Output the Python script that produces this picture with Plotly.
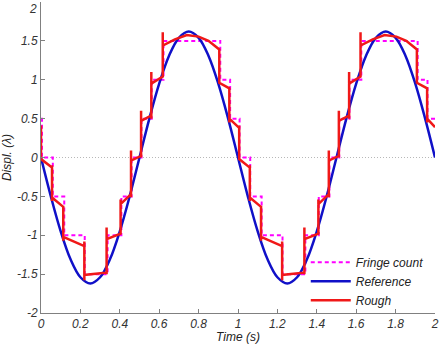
import plotly.graph_objects as go

# ---- data ----
ref_t = [round(0.05 * i, 2) for i in range(41)]
ref_v = [0.00, -0.50, -0.95, -1.31, -1.54, -1.62, -1.54, -1.31, -0.95, -0.50,
         0.00, 0.50, 0.95, 1.31, 1.54, 1.62, 1.54, 1.31, 0.95, 0.50,
         0.00, -0.50, -0.95, -1.31, -1.54, -1.62, -1.54, -1.31, -0.95, -0.50,
         0.00, 0.50, 0.95, 1.31, 1.54, 1.62, 1.54, 1.31, 0.95, 0.50, 0.00]

fringe_t = [0.0, 0.005, 0.06, 0.118, 0.222, 0.338, 0.408, 0.46, 0.51, 0.562, 0.622,
            0.91, 0.96, 1.008, 1.062, 1.12, 1.226, 1.342, 1.41, 1.464, 1.514, 1.566,
            1.626, 1.912, 1.962, 2.0]
fringe_v = [0.5, 0, -0.5, -1, -1.5, -1, -0.5, 0, 0.5, 1, 1.5,
            1, 0.5, 0, -0.5, -1, -1.5, -1, -0.5, 0, 0.5, 1,
            1.5, 1, 0.5, 0.5]

rough_t = [0.000, 0.000, 0.056, 0.056, 0.056, 0.056, 0.113, 0.113, 0.113, 0.113,
           0.220, 0.220, 0.220, 0.220, 0.333, 0.333, 0.333, 0.333, 0.404, 0.404,
           0.404, 0.457, 0.457, 0.457, 0.457, 0.508, 0.508, 0.508, 0.508, 0.560,
           0.560, 0.560, 0.560, 0.618, 0.618, 0.618, 0.680, 0.740, 0.800, 0.850,
           0.905, 0.905, 0.956, 0.956, 0.956, 1.006, 1.006, 1.006,
           1.060, 1.060, 1.060, 1.060, 1.117, 1.117, 1.117, 1.117,
           1.224, 1.224, 1.224, 1.224, 1.337, 1.337, 1.337, 1.337, 1.408, 1.408,
           1.408, 1.461, 1.461, 1.461, 1.461, 1.512, 1.512, 1.512, 1.512, 1.564,
           1.564, 1.564, 1.564, 1.622, 1.622, 1.622, 1.684, 1.744, 1.804, 1.854,
           1.908, 1.908, 1.960, 1.960, 1.960, 2.000]
rough_v = [0.41, -0.02, -0.13, -0.10, -0.56, -0.515, -0.635, -0.62, -1.07, -1.02,
           -1.14, -1.08, -1.58, -1.51, -1.48, -1.50, -0.90, -1.05, -0.98, -0.54,
           -0.60, -0.47, -0.51, 0.09, -0.04, 0.02, 0.00, 0.60, 0.47, 0.54,
           0.50, 1.10, 0.95, 1.04, 1.61, 1.44, 1.52, 1.575, 1.555, 1.50,
           1.39, 0.96, 0.89, 0.45, 0.50, 0.38, 0.41, -0.02,
           -0.13, -0.10, -0.56, -0.515, -0.635, -0.62, -1.07, -1.02,
           -1.14, -1.08, -1.58, -1.51, -1.48, -1.50, -0.90, -1.05, -0.98, -0.54,
           -0.60, -0.47, -0.51, 0.09, -0.04, 0.02, 0.00, 0.60, 0.47, 0.54,
           0.50, 1.10, 0.95, 1.04, 1.61, 1.44, 1.52, 1.575, 1.555, 1.50,
           1.39, 0.96, 0.89, 0.45, 0.50, 0.39]

x_ticks = [0, 0.2, 0.4, 0.6, 0.8, 1, 1.2, 1.4, 1.6, 1.8, 2]
x_labels = ["0", "0.2", "0.4", "0.6", "0.8", "1", "1.2", "1.4", "1.6", "1.8", "2"]
y_ticks = [-2, -1.5, -1, -0.5, 0, 0.5, 1, 1.5, 2]
y_labels = ["-2", "-1.5", "-1", "-0.5", "0", "0.5", "1", "1.5", ""]
y_top_label = "2"

FONT = "Liberation Sans, Arial, sans-serif"

fig = go.Figure()
fig.add_trace(go.Scatter(x=fringe_t, y=fringe_v, mode="lines", name="Fringe count",
                         line=dict(color="#ff00ff", width=2, dash="4px,3px", shape="hv")))
fig.add_trace(go.Scatter(x=ref_t, y=ref_v, mode="lines", name="Reference",
                         line=dict(color="#1010c8", width=2.5, shape="spline", smoothing=1.0)))
fig.add_trace(go.Scatter(x=rough_t, y=rough_v, mode="lines", name="Rough",
                         line=dict(color="#f01818", width=2.5)))

fig.add_shape(type="line", xref="x", yref="y", x0=0, x1=2, y0=0, y1=0,
              line=dict(color="#b8b8b8", width=1, dash="1px,2px"), layer="below")

# top y tick label, nudged so it stays inside the page
fig.add_annotation(text=y_top_label, xref="paper", yref="paper", x=0, y=1,
                   xanchor="right", yanchor="top", xshift=-2, yshift=2, showarrow=False,
                   font=dict(family=FONT, size=12, color="#333333", style="italic"))

fig.update_layout(
    width=441, height=344,
    margin=dict(l=41, r=6, t=2, b=31, autoexpand=False),
    paper_bgcolor="white", plot_bgcolor="white",
    font=dict(family=FONT, size=12, color="#333333", style="italic"),
    showlegend=True,
    legend=dict(x=0.672, y=-0.006, xanchor="left", yanchor="bottom",
                bgcolor="rgba(0,0,0,0)", borderwidth=0,
                font=dict(family=FONT, size=12, color="#222222", style="italic"),
                itemwidth=40, tracegroupgap=0),
)
fig.update_xaxes(range=[0, 2], tickmode="array", tickvals=x_ticks, ticktext=x_labels,
                 showgrid=False, zeroline=False, showline=True, linecolor="#808080",
                 linewidth=1, ticks="inside", ticklen=4, tickcolor="#808080",
                 ticklabeloverflow="allow", automargin=False,
                 title=dict(text="Time (s)", standoff=4,
                            font=dict(family=FONT, size=12, color="#222222", style="italic")))
fig.update_yaxes(range=[-2, 2], tickmode="array", tickvals=y_ticks, ticktext=y_labels,
                 showgrid=False, zeroline=False, showline=True, linecolor="#808080",
                 linewidth=1, ticks="inside", ticklen=4, tickcolor="#808080",
                 ticklabeloverflow="allow", automargin=False,
                 title=dict(text="Displ. (λ)", standoff=4,
                            font=dict(family=FONT, size=12, color="#222222", style="italic")))

fig.write_html("out.html")
